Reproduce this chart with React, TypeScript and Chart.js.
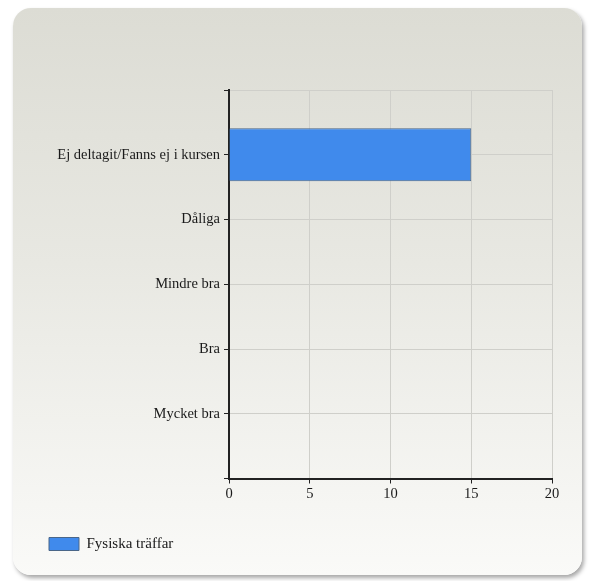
import React, { useEffect, useRef } from "react";
import { Chart, registerables } from "chart.js";

Chart.register(...registerables);

const categories: string[] = ["", "Ej deltagit/Fanns ej i kursen", "Dåliga", "Mindre bra", "Bra", "Mycket bra", ""];
const seriesName = "Fysiska träffar";
const seriesValues: (number | null)[] = [null, 15, null, null, null, null, null];
const xMin = 0;
const xMax = 20;
const xStep = 5;

export default function App() {
  const ref = useRef<HTMLCanvasElement | null>(null);

  useEffect(() => {
    if (!ref.current) return;
    const family = "'Liberation Serif', 'Times New Roman', serif";
    const font = { family, size: 14.5 };
    const chart = new Chart(ref.current, {
      type: "bar",
      data: {
        labels: categories,
        datasets: [
          {
            label: seriesName,
            data: seriesValues,
            backgroundColor: "#408aec",
            borderColor: "#4a6688",
            borderWidth: 1,
            barPercentage: 1,
            categoryPercentage: 0.82,
          },
        ],
      },
      options: {
        indexAxis: "y",
        responsive: false,
        animation: false,
        layout: { padding: { top: 90, right: 37, left: 39, bottom: 19.5 } },
        plugins: {
          legend: {
            position: "bottom",
            align: "start",
            labels: {
              boxWidth: 30,
              boxHeight: 13,
              color: "#1a1a1a",
              font: { family, size: 15 },
              padding: 10,
            },
          },
          tooltip: { enabled: false },
        },
        scales: {
          x: {
            min: xMin,
            max: xMax,
            ticks: { stepSize: xStep, color: "#1a1a1a", font, padding: 2 },
            grid: { color: "#cfcfca", tickColor: "#222", tickLength: 5, lineWidth: 1 },
            border: { color: "#222", width: 2 },
            afterFit: (s: any) => { s.height = 48; },
          },
          y: {
            offset: false,
            ticks: { color: "#1a1a1a", font, padding: 4, autoSkip: false },
            grid: { color: "#cfcfca", tickColor: "#222", tickLength: 5, lineWidth: 1, offset: false },
            border: { color: "#222", width: 2 },
            afterFit: (s: any) => { s.width = 190; },
          },
        },
      },
    });
    return () => chart.destroy();
  }, []);

  return (
    <div style={{ position: "fixed", left: 0, top: 0, width: 589, height: 581, background: "#fff" }}>
      <div
        style={{
          position: "absolute",
          left: 13,
          top: 8,
          width: 569,
          height: 567,
          borderRadius: 18,
          background: "linear-gradient(to bottom, #dcdcd4 0%, #e8e8e2 45%, #fafaf8 100%)",
          boxShadow: "2px 3px 4px rgba(0,0,0,0.35)",
        }}
      />
      <canvas
        ref={ref}
        width={589}
        height={581}
        style={{ position: "absolute", left: 0, top: 0, width: 589, height: 581 }}
      />
    </div>
  );
}
